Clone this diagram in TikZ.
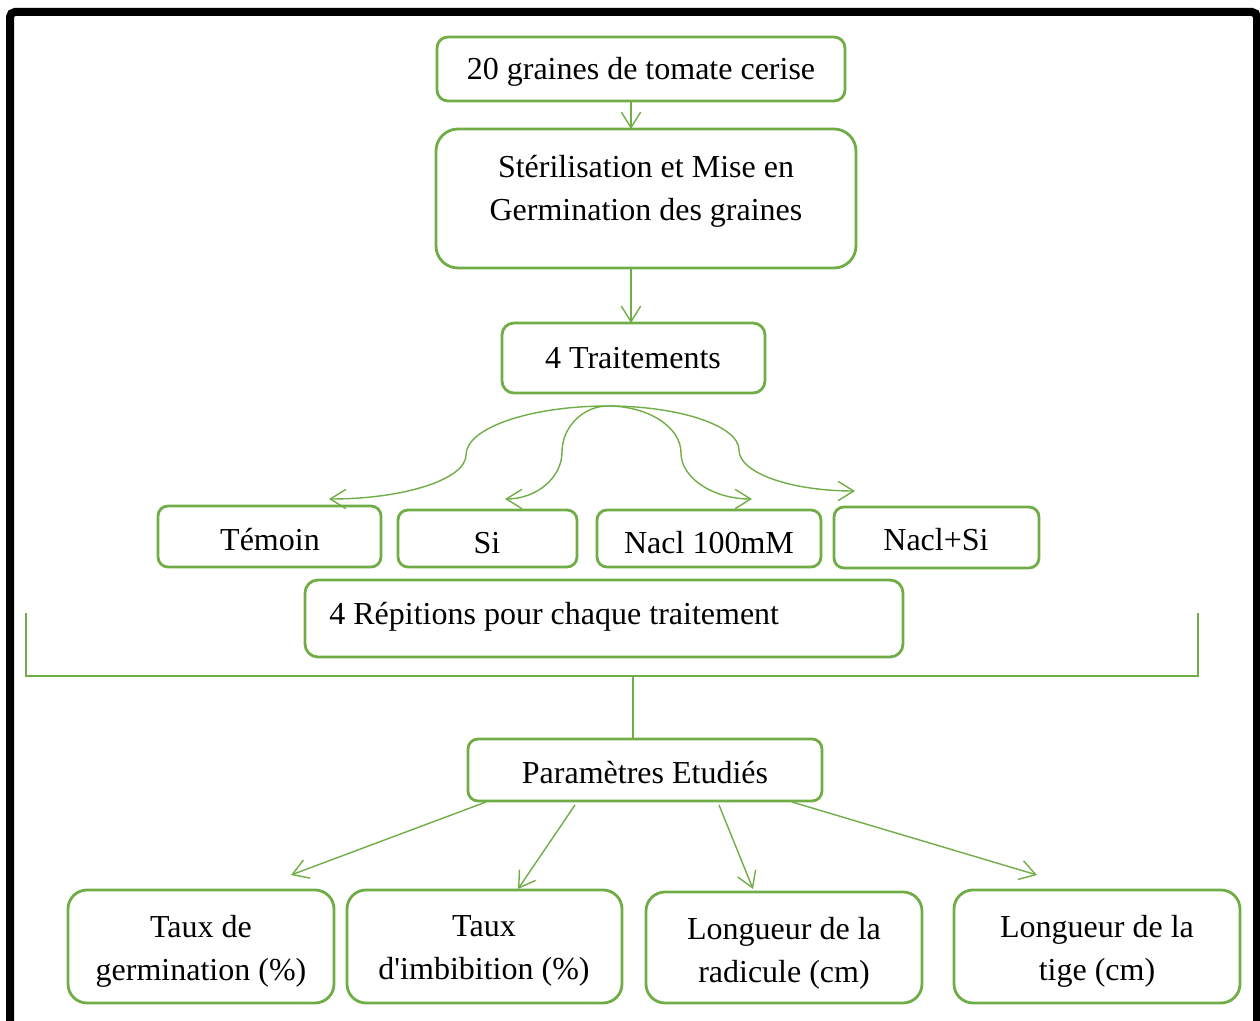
\documentclass[tikz,border=0pt]{standalone}
\usepackage{fontspec}
\setmainfont{Liberation Serif}
\usetikzlibrary{arrows.meta,fit}
\definecolor{gr}{RGB}{112,173,71}
\begin{document}
\begin{tikzpicture}[x=0.5pt,y=-0.5pt,
 gbox/.style={draw=gr, line width=1.4pt, inner sep=0pt, outer sep=0pt, rounded corners=#1},
 gbox/.default=5pt,
 txt/.style={font=\fontsize{16}{21.5}\selectfont, inner sep=0pt, align=center},
 conn/.style={draw=gr, line width=0.7pt},
 arr/.style={conn, -{Straight Barb[length=7.8pt,width=9.7pt]}},
]
\useasboundingbox (0,0) rectangle (1260,1021);
% outer frame
\coordinate (fa) at (10,1060);
\coordinate (fb) at (10,12);
\coordinate (fc) at (1257,12);
\coordinate (fd) at (1257,1060);
\draw[line width=4pt, rounded corners=2.5pt] (fa) -- (fb) -- (fc) -- (fd);

% boxes
\node[gbox=5.5pt, fit={(437,37)(845,101)}] (b1) {};
\node[gbox=11pt, fit={(436,129)(856,268)}] (b2) {};
\node[gbox=6pt, fit={(502,323)(765,393)}] (b3) {};
\node[gbox, fit={(158,506)(381,567)}] (t1) {};
\node[gbox, fit={(398,510)(577,567)}] (t2) {};
\node[gbox, fit={(597,510)(821,567)}] (t3) {};
\node[gbox, fit={(834,507)(1039,568)}] (t4) {};
\node[gbox=6.5pt, fit={(305,580)(903,657)}] (rep) {};
\node[gbox, fit={(468,739)(822,801)}] (par) {};
\node[gbox=9.5pt, fit={(68,890)(334,1003)}] (p1) {};
\node[gbox=9.5pt, fit={(347,890)(622,1003)}] (p2) {};
\node[gbox=9.5pt, fit={(646,892)(922,1003)}] (p3) {};
\node[gbox=9.5pt, fit={(954,890)(1240,1003)}] (p4) {};

% texts
\node[txt] (l1) at (641,72) {20 graines de tomate cerise};
\node[txt] (l2) at (646,191) {Stérilisation et Mise en\\Germination des graines};
\node[txt] (l3) at (633,358) {4 Traitements};
\node[txt] (l4) at (270,540) {Témoin};
\node[txt] (l5) at (487,543) {Si};
\node[txt] (l6) at (709,543) {Nacl 100mM};
\node[txt] (l7) at (936,540) {Nacl+Si};
\node[txt, anchor=west] (l8) at (329,617) {4 Répitions pour chaque traitement};
\node[txt] (l9) at (645,773) {Paramètres Etudiés};
\node[txt] (l10) at (201,951) {Taux de\\germination (\%)};
\node[txt] (l11) at (484,951) {Taux\\d\textquotesingle imbibition (\%)};
\node[txt] (l12) at (784,953) {Longueur de la\\radicule (cm)};
\node[txt] (l13) at (1097,951) {Longueur de la\\tige (cm)};

% vertical arrows
\coordinate (vx) at (631,0);
\draw[arr] (vx |- b1.south) -- (vx |- b2.north);
\draw[arr] (vx |- b2.south) -- (vx |- b3.north);

% curved arrows to treatments
\coordinate (fork) at (608,406);
\coordinate (m1) at (466,455);
\coordinate (m2) at (562,452);
\coordinate (m3) at (681,453);
\coordinate (m4) at (739,450);
\coordinate (e1) at (329,499);
\coordinate (e2) at (505,499);
\coordinate (e3) at (752,499);
\coordinate (e4) at (855,491);
\draw[arr] (fork) .. controls (530,406) and (466,428) .. (m1)
               .. controls (466,479) and (405,499) .. (e1);
\draw[arr] (fork) .. controls (583,406) and (562,427) .. (m2)
               .. controls (562,478) and (536,499) .. (e2);
\draw[arr] (fork) .. controls (648,406) and (681,427) .. (m3)
               .. controls (681,478) and (713,499) .. (e3);
\draw[arr] (fork) .. controls (680,406) and (739,426) .. (m4)
               .. controls (739,473) and (791,491) .. (e4);

% bracket
\coordinate (bl) at (26,613);
\coordinate (bll) at (26,676);
\coordinate (brr) at (1198,676);
\coordinate (br) at (1198,613);
\coordinate (jn) at (633,676);
\draw[conn] (bl) -- (bll) -- (brr) -- (br);
\draw[conn] (jn) -- (jn |- par.north);

% parameter arrows
\coordinate (s1) at (486,802);
\coordinate (s2) at (575,805);
\coordinate (s3) at (719,805);
\coordinate (s4) at (792,802);
\coordinate (q1) at (291,875);
\coordinate (q2) at (518,889);
\coordinate (q3) at (753,889);
\coordinate (q4) at (1037,875);
\draw[arr] (s1) -- (q1);
\draw[arr] (s2) -- (q2);
\draw[arr] (s3) -- (q3);
\draw[arr] (s4) -- (q4);
\end{tikzpicture}
\end{document}
